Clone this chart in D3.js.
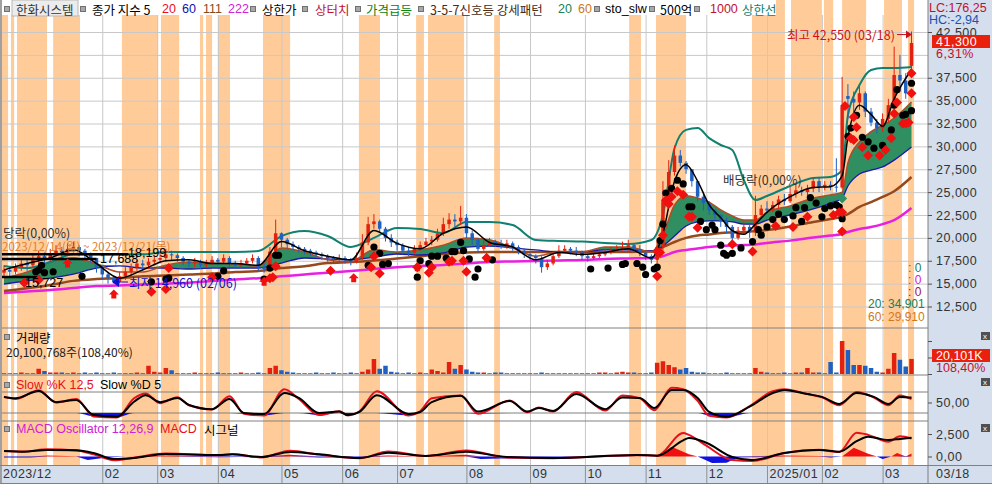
<!DOCTYPE html>
<html>
<head>
<meta charset="utf-8">
<script src="https://d3js.org/d3.v7.min.js"></script>
<style>
  body { margin: 0; background: #fff; }
  svg { display: block; }
  text { font-family: "Liberation Sans", Arial, sans-serif; }
  .kr { font-family: "Noto Sans CJK KR", sans-serif; }
</style>
</head>
<body>
<svg id="mysvg" width="992" height="484"></svg>
<script>
// prices are in units of 100 won, one candle every 2 days on the day axis
var open = [162,165,163,168,172,170,176,180,178,183,
  186,184,188,190,186,182,178,168,160,156,
  152,158,163,168,172,170,174,176,178,182,
  181,178,174,172,174,170,172,176,174,178,
  172,170,172,175,178,168,166,185,205,198,
  193,190,188,186,184,182,180,178,176,178,
  176,174,178,195,215,218,210,200,195,192,
  186,184,188,192,196,198,205,215,220,218,
  222,205,198,188,192,196,194,192,194,190,
  186,182,180,178,168,172,180,186,188,186,
  184,180,178,180,182,184,186,188,190,192,
  188,184,180,176,190,240,272,290,282,275,
  262,245,238,230,225,218,212,200,208,212,
  206,225,232,230,236,242,240,248,252,250,
  254,262,256,258,256,255,355,352,348,358,
  338,326,320,330,345,378,372,388];
var close = [165,163,168,172,170,176,180,178,183,186,
  184,188,190,186,182,178,168,160,156,152,
  158,163,168,172,170,174,176,178,182,181,
  178,174,172,174,170,172,176,174,178,172,
  170,172,175,178,168,166,185,205,198,193,
  190,188,186,184,182,180,178,176,178,176,
  174,178,195,215,218,210,200,195,192,186,
  184,188,192,196,198,205,215,220,218,222,
  205,198,188,192,196,194,192,194,190,186,
  182,180,178,168,172,180,186,188,186,184,
  180,178,180,182,184,186,188,190,192,188,
  184,180,176,190,240,272,290,282,275,262,
  245,238,230,225,218,212,200,208,212,206,
  225,232,230,236,242,240,248,252,250,254,
  262,256,258,256,255,343,352,348,358,338,
  326,320,330,345,378,372,358,413];
var high = [170,168,172,176,176,182,186,184,188,192,
  190,194,196,192,188,184,178,170,162,158,
  163,168,172,176,176,178,180,184,188,186,
  183,180,176,178,176,176,180,178,182,180,
  175,176,178,182,180,172,190,220,206,200,
  196,192,190,188,186,184,182,180,182,180,
  178,184,204,223,226,220,212,204,198,194,
  190,192,196,200,202,210,222,227,226,235,
  226,208,200,198,200,198,198,198,196,192,
  188,184,182,180,176,184,192,192,190,190,
  186,182,184,186,188,190,192,196,198,194,
  192,186,182,196,262,285,301,296,284,272,
  256,248,240,232,226,222,214,212,218,214,
  246,236,240,240,246,248,256,258,256,258,
  266,266,262,262,287,376,368,360,366,360,
  342,330,336,352,409,400,380,425.5];
var low = [158,158,160,164,164,168,172,172,174,180,
  178,180,184,180,176,172,162,155,150,150,
  150,154,158,164,164,166,170,172,174,176,
  174,170,168,168,166,168,170,170,172,168,
  166,168,170,172,164,162,164,184,190,188,
  186,184,182,180,178,176,174,172,174,172,
  170,172,176,192,210,206,196,190,186,182,
  180,182,186,190,192,196,202,210,212,214,
  200,192,184,186,190,190,188,188,186,182,
  178,176,172,162,165,170,178,184,182,180,
  176,174,176,178,180,182,184,186,186,184,
  180,176,172,172,186,236,268,278,270,256,
  240,230,225,220,212,205,193,198,204,200,
  202,222,226,228,232,236,238,244,246,246,
  250,250,252,252,250,253,330,336,340,332,
  322,314,316,326,340,360,352,384];
// volume in millions of shares
var volume = [1,1,1,2,1,1,7,4,2,2,
  2,1,2,1,2,1,2,1,1,2,
  1,1,1,2,1,11,3,2,8,5,
  1,1,1,2,1,1,1,2,1,1,
  1,2,1,1,2,1,8,11,5,3,
  2,1,1,1,2,1,1,2,1,1,
  2,1,3,6,20,7,11,3,2,1,
  2,1,2,1,6,4,2,16,7,12,
  6,3,2,2,1,2,2,1,1,1,
  1,1,1,2,1,1,1,1,1,1,
  1,1,1,2,2,1,2,3,2,2,
  1,1,2,15,17,12,9,6,8,3,
  2,2,1,1,1,2,1,1,1,1,
  8,3,2,1,1,2,1,2,2,8,
  2,2,1,16,2,44,32,12,12,11,
  8,3,2,7,28,19,10,20.1];

// moving averages share these day positions
var lineDay = [0,8,16,24,32,40,48,56,64,72,80,88,96,104,112,120,128,136,144,152,160,168,176,184,192,200,208,216,224,
  228,232,236,240,244,248,252,256,260,264,272,280,286,290,292,296,300,304,308,314];
var ma5 = [165,172,178,187,172,156,165,175,176,172,172,170,196,186,180,176,208,194,188,205,212,195,190,176,184,182,184,188,178,
  205,262,280,262,236,222,208,204,215,228,245,255,256,268,310,345,335,322,352,384];
var ma20 = [156,162.7,173.6,178,171.5,162.7,162.7,170,173.6,172.5,171.5,169.3,189,184.6,176,173.6,187,184.6,187,192,200,198,189,180,184.6,184.6,190,190,184.6,
  203,236,246,243.6,239,230.5,224,219.5,219.5,228,235,243.6,247,250,282,305,316,323,331,348.5];
var ma60 = [149.6,152.9,156,160.5,167,169.3,167,167,166,167,167,167,172.5,178,177,176,179,182.4,181.3,183.5,190,191,189,186.8,184.6,184.6,186.8,186.8,185.7,
  191,202,213,217.4,218.5,218.5,217.4,215,215,219.5,225,231.6,238,243.6,256.7,269.8,274,277.5,285,299.3];
var ma111 = [142,145,148.5,153,155,156,158,159,160,161,162.7,163.8,167,169,172.5,173.6,175.3,177.5,180,182.4,184,184.6,184.6,184.6,184.6,184.6,184.6,184.6,185,
  190,195.5,200,202.6,203.7,205.3,205.9,206.4,207.5,208.6,212.4,217.4,220.6,223.4,226,233.8,239,244.7,251,266.5];
var ma222 = [139.8,141.4,143,145.2,147.4,148,149,150,151,152.9,154.5,156,158,160,162,163.8,166,168,169.3,170.4,172,173.6,174.2,174.7,175.3,175.8,177,177.5,178,
  180,184.6,186.8,188.4,190,191,191.7,192.2,192.8,194.4,197,200.4,202.6,204.2,206.4,209.7,211.9,215,219.5,232.7];
var upperLine = [169.3,167,173.6,182,182,182,182,184.6,184.6,184.6,184.6,185.7,202,207.5,202,190,200,210.8,209.7,205.3,217.4,217.4,214,197.7,196.6,196,194.4,193.3,197.7,
  225,298,318,320,309,301.5,296,263,241.4,245.8,256.7,265.5,266.5,274,334,367,383.5,385.7,385.7,386.8];

// signal marks
var dotDay = [11,13,12,14,17,27,51,56,57,76,74,92,90,94,95,126,128,130,131,133,143,144,147,148,150,153,155,156,158,159,161,163,164,169,
  203,209,214,215,219,221,222,225,226,227,228,229,231,233,235,237,238,241,243,245,246,248,249,250,252,255,259,261,262,264,266,268,270,
  273,274,276,277,279,281,283,284,286,288,289,290,292,293,295,297,299,301,304,307,308,309,311,312,314,314];
var dotPrice = [163,170,165,162,163,158,152,155,156,164,158,167,155,181,181,170,190,183,171,172,157,175,172,180,180,178,185,185,195,186,177,157,166,176,
  166,167,171,172,172,168,160,166,168,197,215,249,254,263,259,234,234,218,209,214,209,192,183,181,183,189,196,209,203,212,220,226,220,
  224,233,218,233,244,238,223,232,235,236,234,221,311,320,334,310,305,298,301,318,345,362,334,335,339,369];
var diamondDay = [12,7,51,56,57,72,92,93,94,113,127,128,130,143,147,148,154,155,159,160,167,226,226,227,228,229,230,231,233,235,237,238,240,252,259,267,273,278,287,289,290,290,
  291,293,294,294,295,297,299,303,305,307,308,309,311,312,313,314,314];
var diamondPrice = [154,151,141,144,167,157,156,157,169,164,168,180,161,168,162,168,174,175,175,163,178,158,185,184,203,241,237,245,251,247,223,223,211,193,185,213,212,223,225,228,228,207,
  344,309,307,332,321,299,290,290,296,309,336,348,325,325,326,358,380];
var arrowDay = [22,38,90,121,143,167];
var arrowPrice = [172,138,152,156,168,178];

// oscillators
var stoDay = [0,4,12,18,25,31,39,45,49,54,60,64,72,78,83,90,97,102,109,116,119,123,129,140,144,148,158,164,175,181,185,190,198,208,214,220,225,231,235,240,244,250,258,266,270,278,283,289,295,301,306,310,314];
var slowK = [66,60,85,50,60,10,7,62,76,48,65,42,30,68,18,13,88,60,14,25,13,25,82,13,25,62,70,18,56,22,36,24,80,27,70,62,28,92,88,55,12,7,40,82,88,74,65,42,80,64,42,70,60];
var slowD = [66,62,83,51,57,14,9,52,71,51,63,43,31,60,20,17,77,63,20,24,14,23,71,17,23,51,69,24,54,24,34,26,74,31,64,63,34,86,86,63,23,9,38,77,86,74,66,46,77,66,46,66,64];
var macdDay = [0,7,15,25,31,38,45,56,74,79,89,99,109,123,133,146,160,174,190,219,226,235,237,243,252,259,270,282,289,295,299,306,310,314];
var macdLine = [611,560,800,680,250,-420,-130,320,140,260,-100,640,210,-190,560,50,660,-120,-200,180,90,2600,2400,1200,-400,-500,400,740,500,2644,2400,1650,2250,2000];
var signalLine = [611,533,722,690,389,-278,-167,278,167,244,-56,500,244,-167,422,55,533,-56,-167,167,89,1800,2055,1533,-56,-389,389,722,533,1700,2200,1833,1950,2089];
var oscDay = [0,9,15,25,29,35,42,57,74,82,89,99,109,123,133,146,160,165,190,219,226,231,237,240,245,250,254,270,282,286,290,294,299,302,304,307,309,312,314];
var oscValue = [-120,-100,120,40,-400,-150,0,100,-90,-60,-80,200,-120,-80,120,0,200,-280,-100,40,0,1089,250,0,-722,-700,-100,120,60,-120,0,978,300,0,-278,0,389,-60,333];

// orange shaded periods, in days
var bandStart = [-0.7,2.4,4.5,17,40.8,54.3,67.8,69.9,74,89.6,122.8,142.6,146.7,169.6,216.3,225.6,258.8,272.3,283.7,290,304.5,312.8];
var bandEnd = [1.4,3.5,14.9,26.3,53.3,60.6,68.9,72,78.2,99,130.1,145.3,159.2,171.6,220.4,236,270.2,283,286.9,298.3,310.7,314.9];

// axes
var monthDay = [34,53,74,96,117,136,160,182,201,222,243,264,283,304];
var monthLabel = ["02","03","04","05","06","07","08","09","10","11","12","2025/01","02","03"];
var priceTicks = [125,150,175,200,225,250,275,300,325,350,375,425];
var gridTicks = [125,150,175,200,225,250,275,300,325,350,375,400,425];
var levelPrice = [181.99,176.88,157.27];
var levelEnd = [43,32,12.5];

var svg = d3.select("#mysvg");
var panelColor = "#d4deec";
var red = "#e2210f", blue = "#2060c0";

// scales for the day axis and every pane
var x = d3.scaleLinear().domain([0, 314]).range([4, 911.5]);
var y = d3.scaleLinear().domain([125, 425]).range([306.5, 32]);
var yVol = d3.scaleLinear().domain([0, 44]).range([374, 341]);
var ySto = d3.scaleLinear().domain([0, 100]).range([420, 385]);
var yMacd = d3.scaleLinear().domain([0, 2500]).range([456.5, 434]);

// shaded periods first, everything else sits on them
svg.append("g").selectAll("rect").data(bandStart).enter().append("rect")
  .attr("x", function (d) { return Math.max(2, x(d)); })
  .attr("y", 0)
  .attr("width", function (d, i) { return x(bandEnd[i]) - Math.max(2, x(d)); })
  .attr("height", 465)
  .attr("fill", "#ffcc99");

// white strip behind the legend
svg.append("rect").attr("x", 2).attr("y", 0).attr("width", 774).attr("height", 15).attr("fill", "#fff");

// vertical month lines via the bottom axis
var gridX = svg.append("g").attr("transform", "translate(0,465)")
  .call(d3.axisBottom(x).tickValues(monthDay).tickSize(-450).tickFormat(""));
gridX.select(".domain").remove();
gridX.selectAll("line").attr("stroke", "#c8c8c8");

// horizontal price grid
var gridY = svg.append("g").attr("transform", "translate(2,0)")
  .call(d3.axisRight(y).tickValues(gridTicks).tickSize(926).tickFormat(""));
gridY.select(".domain").remove();
gridY.selectAll("line").attr("stroke", "#c8c8c8");

// pane borders and stochastic levels
[328, 375, 421].forEach(function (v) {
  svg.append("line").attr("x1", 2).attr("x2", 928).attr("y1", v).attr("y2", v).attr("stroke", "#808080");
});
[20, 80].forEach(function (v) {
  svg.append("line").attr("x1", 2).attr("x2", 928).attr("y1", ySto(v)).attr("y2", ySto(v)).attr("stroke", "#808080");
});

// right and bottom panels
svg.append("rect").attr("x", 928).attr("y", 0).attr("width", 64).attr("height", 484).attr("fill", panelColor);
svg.append("rect").attr("x", 0).attr("y", 465).attr("width", 992).attr("height", 19).attr("fill", panelColor);
svg.append("rect").attr("x", 0).attr("y", 0).attr("width", 2).attr("height", 484).attr("fill", "#a0a0a0");
svg.append("line").attr("x1", 928).attr("x2", 928).attr("y1", 0).attr("y2", 484).attr("stroke", "#808080");
svg.append("line").attr("x1", 0).attr("x2", 992).attr("y1", 465.5).attr("y2", 465.5).attr("stroke", "#808080");
svg.append("line").attr("x1", 0).attr("x2", 992).attr("y1", 483.5).attr("y2", 483.5).attr("stroke", "#808080");

// helper for the smoothed lines
function lineOf(values, days, scale) {
  return d3.line()
    .curve(d3.curveMonotoneX)
    .x(function (d, i) { return x(days[i]); })
    .y(function (d) { return scale(d); })(values);
}

function drawLine(values, days, scale, color, width) {
  svg.append("path").attr("d", lineOf(values, days, scale))
    .attr("fill", "none").attr("stroke", color).attr("stroke-width", width).attr("stroke-linejoin", "round");
}

// green zone between 20 and 60
var zone = d3.area()
  .curve(d3.curveMonotoneX)
  .x(function (d, i) { return x(lineDay[i]); })
  .y0(function (d, i) { return y(ma60[i]); })
  .y1(function (d, i) { return y(Math.max(ma20[i], ma60[i])); });
svg.append("path").attr("d", zone(lineDay)).attr("fill", "#2f8f60");

drawLine(ma222, lineDay, y, "#e820e0", 2.5);
drawLine(ma111, lineDay, y, "#96491c", 2.5);
drawLine(ma60, lineDay, y, "#1a1aa8", 1.3);
drawLine(ma20, lineDay, y, "#b04a28", 1.5);
drawLine(upperLine, lineDay, y, "#108070", 2);

// candles
var candles = svg.append("g").selectAll("g").data(close).enter().append("g");
function candleColor(d, i) { return d >= open[i] ? red : blue; }
candles.append("line")
  .attr("x1", function (d, i) { return x(i * 2); })
  .attr("x2", function (d, i) { return x(i * 2); })
  .attr("y1", function (d, i) { return y(high[i]); })
  .attr("y2", function (d, i) { return y(low[i]); })
  .attr("stroke", candleColor);
candles.append("rect")
  .attr("x", function (d, i) { return x(i * 2) - 1.75; })
  .attr("width", 3.5)
  .attr("y", function (d, i) { return y(Math.max(d, open[i])); })
  .attr("height", function (d, i) { return Math.max(1, Math.abs(y(d) - y(open[i]))); })
  .attr("fill", candleColor);

drawLine(ma5, lineDay, y, "#000", 1.5);

// period high/low segments
levelPrice.forEach(function (p, i) {
  svg.append("line").attr("x1", 2).attr("x2", x(levelEnd[i]))
    .attr("y1", y(p)).attr("y2", y(p)).attr("stroke", "#000").attr("stroke-width", 2.5);
});

// black dots and red markers
svg.append("g").selectAll("circle").data(dotDay).enter().append("circle")
  .attr("cx", function (d) { return x(d); })
  .attr("cy", function (d, i) { return y(dotPrice[i]); })
  .attr("r", 3.6)
  .attr("fill", "#000");
var diamond = d3.symbol().type(d3.symbolSquare).size(50);
svg.append("g").selectAll("path").data(diamondDay).enter().append("path")
  .attr("d", diamond())
  .attr("transform", function (d, i) { return "translate(" + x(d) + "," + y(diamondPrice[i]) + ") rotate(45)"; })
  .attr("fill", "#f01010");
svg.append("g").selectAll("path").data(arrowDay).enter().append("path")
  .attr("d", "M0,-5L5,0L2.5,0L2.5,4L-2.5,4L-2.5,0L-5,0Z")
  .attr("transform", function (d, i) { return "translate(" + x(d) + "," + y(arrowPrice[i]) + ")"; })
  .attr("fill", "#f01010");
svg.append("path").attr("d", diamond())
  .attr("transform", "translate(" + x(290) + "," + y(243) + ") rotate(45)")
  .attr("fill", "#2f8f60");

// volume bars
svg.append("g").selectAll("rect").data(volume).enter().append("rect")
  .attr("x", function (d, i) { return x(i * 2) - 2.25; })
  .attr("width", 4.5)
  .attr("y", function (d) { return yVol(d); })
  .attr("height", function (d) { return yVol(0) - yVol(d); })
  .attr("fill", function (d, i) { return close[i] >= open[i] ? red : blue; });

// slow stochastic, blue where %K is under the 20 level
var stoFill = d3.area()
  .curve(d3.curveMonotoneX)
  .x(function (d, i) { return x(stoDay[i]); })
  .y0(ySto(20))
  .y1(function (d) { return ySto(Math.min(d, 20)); });
svg.append("path").attr("d", stoFill(slowK)).attr("fill", "#1010e0");
drawLine(slowK, stoDay, ySto, "#e8101c", 2);
drawLine(slowD, stoDay, ySto, "#000", 2);

// macd histogram split into up and down parts
var oscUp = d3.area()
  .x(function (d, i) { return x(oscDay[i]); })
  .y0(yMacd(0))
  .y1(function (d) { return yMacd(Math.max(d, 0)); });
var oscDown = d3.area()
  .x(function (d, i) { return x(oscDay[i]); })
  .y0(yMacd(0))
  .y1(function (d) { return yMacd(Math.min(d, 0)); });
svg.append("path").attr("d", oscUp(oscValue)).attr("fill", "#f01010");
svg.append("path").attr("d", oscDown(oscValue)).attr("fill", "#1010e0");
drawLine(macdLine, macdDay, yMacd, "#e8101c", 2);
drawLine(signalLine, macdDay, yMacd, "#000", 2);

// right axes
var fmt = d3.format(",");
function styleAxis(g) {
  g.select(".domain").remove();
  g.selectAll("line").attr("stroke", "#505050");
  g.selectAll("text").attr("fill", "#333").style("font-size", "12.5px").style("letter-spacing", "0.5px");
}
svg.append("g").attr("transform", "translate(928,0)")
  .call(d3.axisRight(y).tickValues(priceTicks).tickSize(4).tickPadding(4).tickFormat(function (d) { return fmt(d * 100); }))
  .call(styleAxis);
svg.append("g").attr("transform", "translate(928,0)")
  .call(d3.axisRight(ySto).tickValues([50]).tickSize(4).tickPadding(4).tickFormat(function () { return "50,00"; }))
  .call(styleAxis);
svg.append("g").attr("transform", "translate(928,0)")
  .call(d3.axisRight(yMacd).tickValues([0, 2500]).tickSize(4).tickPadding(4).tickFormat(function (d) { return d ? "2,500" : "0,00"; }))
  .call(styleAxis);
svg.append("g").attr("transform", "translate(928,0)")
  .call(d3.axisRight(yVol).tickValues([0, 22, 44]).tickSize(4).tickFormat(""))
  .call(styleAxis);

// bottom month labels
var months = svg.append("g").attr("transform", "translate(0,465)")
  .call(d3.axisBottom(x).tickValues(monthDay).tickSize(18)
    .tickFormat(function (d, i) { return monthLabel[i]; }));
months.select(".domain").remove();
months.selectAll("line").attr("stroke", "#909090");
months.selectAll("text").attr("fill", "#333").style("font-size", "12.5px")
  .style("letter-spacing", "0.5px").attr("text-anchor", "start")
  .attr("x", 2).attr("y", 9).attr("dy", "0.35em");

function label(px, py, str, color, size, cls) {
  return svg.append("text").attr("x", px).attr("y", py)
    .attr("class", cls || null)
    .attr("fill", color)
    .style("font-size", (size || 12.5) + "px")
    .attr("dominant-baseline", "central")
    .text(str);
}

label(3, 474, "2023/12", "#333").style("letter-spacing", "0.5px");
label(936, 474, "03/18", "#333").style("letter-spacing", "0.5px");

// legend row
function marker(px, py) {
  svg.append("rect").attr("x", px - 2.5).attr("y", py - 2.5).attr("width", 5).attr("height", 5)
    .attr("fill", "#a8a8a8").attr("stroke", "#707070");
}
svg.append("rect").attr("x", 12).attr("y", 0).attr("width", 66).attr("height", 16)
  .attr("fill", "#ececec").attr("stroke", "#b8b8b8");
[7, 83, 253, 305, 358, 421, 597, 652, 697].forEach(function (v) { marker(v, 9); });
label(16, 9, "한화시스템", "#333", 12.5, "kr");
label(92, 9, "종가 지수 5", "#000", 12.5, "kr");
label(162, 9, "20", "#e8101c");
label(182, 9, "60", "#1010b0");
label(203, 9, "111", "#8a4a20");
label(228, 9, "222", "#d020d8");
label(262, 9, "상한가", "#000", 12.5, "kr");
label(315, 9, "상터치", "#c01030", 12.5, "kr");
label(366, 9, "가격급등", "#108010", 12.5, "kr");
label(430, 9, "3-5-7신호등 강세패턴", "#4a2a10", 12.5, "kr");
label(558, 9, "20", "#208050");
label(578, 9, "60", "#d07820");
label(605, 9, "sto_slw", "#000");
label(660, 9, "500억", "#000", 12.5, "kr");
label(710, 9, "1000", "#c01030");
label(742, 9, "상한선", "#108070", 12.5, "kr");

// right panel readouts
label(929, 8, "LC:176,25", "#c01030", 12.5);
label(929, 20, "HC:-2,94", "#2050b0", 12.5);
svg.append("rect").attr("x", 932).attr("y", 35).attr("width", 58).attr("height", 13).attr("fill", "#e8200c");
label(936, 42, "41,300", "#fff").style("letter-spacing", "0.5px");
label(936, 54, "6,31%", "#c01030").style("letter-spacing", "0.5px");
svg.append("rect").attr("x", 932).attr("y", 349).attr("width", 58).attr("height", 13).attr("fill", "#e8200c");
label(936, 356, "20,101K", "#fff");
label(936, 368, "108,40%", "#c01030");
[336, 382, 428].forEach(function (v) {
  svg.append("rect").attr("x", 981).attr("y", v - 4).attr("width", 9).attr("height", 8).attr("fill", "#505050");
  label(983, v, "x", "#fff", 8);
});

// chart annotations
label(787, 34, "최고 42,550 (03/18)", "#d01020", 12.5, "kr");
svg.append("line").attr("x1", 897).attr("x2", 908).attr("y1", y(425.5) + 3).attr("y2", y(425.5) + 3).attr("stroke", "#d01020");
svg.append("path").attr("d", "M912," + (y(425.5) + 3) + "l-6,-4v8Z").attr("fill", "#d01020");
label(723, 179, "배당락(0,00%)", "#333", 12.5, "kr");
label(3, 232, "당락(0,00%)", "#333", 12.5, "kr");
label(2, 246, "2023/12/14(월) ~ 2023/12/21(목)", "#e08030", 11.5, "kr");
label(128, 253, "18,199", "#000");
label(100, 259, "17,688", "#000");
label(25, 283, "15,727", "#000");
svg.append("line").attr("x1", 116).attr("x2", 128).attr("y1", 282).attr("y2", 282).attr("stroke", "#1010d0");
svg.append("path").attr("d", "M112,282l7,-5v10Z").attr("fill", "#1010d0");
label(129, 282, "최저 14,960 (02/06)", "#1010d0", 12.5, "kr");
label(908, 268, ": 0", "#208050", 12);
label(908, 280, ": 0", "#d020d8", 12);
label(908, 292, ": 0", "#a01050", 12);
label(868, 304, "20: 34,901", "#208050", 12);
label(868, 317, "60: 29,910", "#d07820", 12);

// pane titles
marker(7, 337);
label(16, 337, "거래량", "#000", 12.5, "kr");
label(6, 351, "20,100,768주(108,40%)", "#222", 12, "kr");
marker(7, 385);
label(16, 385, "Slow %K 12,5", "#e8101c");
label(100, 385, "Slow %D 5", "#000");
marker(7, 429);
label(16, 429, "MACD Oscillator 12,26,9", "#d020d8");
label(160, 429, "MACD", "#e8101c");
label(204, 429, "시그널", "#000", 12.5, "kr");
</script>
</body>
</html>
